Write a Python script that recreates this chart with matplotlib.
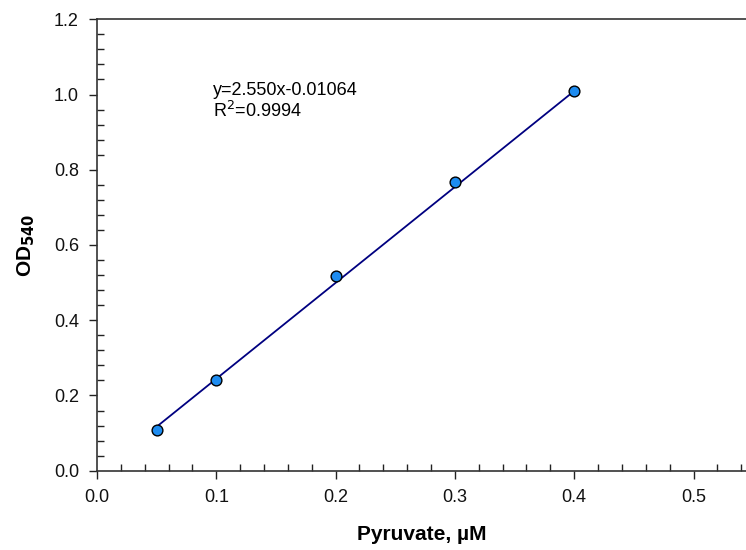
import numpy as np
import matplotlib
matplotlib.use('Agg')
import matplotlib.pyplot as plt
from matplotlib.ticker import MultipleLocator

plt.rcParams['font.family'] = ['Liberation Sans', 'DejaVu Sans']

# pyruvate standard curve
pyruvate = [0.05, 0.1, 0.2, 0.3, 0.4]
od540 = [0.108, 0.240, 0.517, 0.768, 1.010]
slope = 2.550
intercept = -0.01064
r_squared = 0.9994

fig = plt.figure(figsize=(7.46, 5.5), dpi=100)
ax = fig.add_axes([0.130, 0.1442, 0.870, 0.8207])

# regression line over the range of standards
x_fit = np.array([min(pyruvate), max(pyruvate)])
ax.plot(x_fit, slope * x_fit + intercept, color='#000080', linewidth=1.3, zorder=2)
ax.scatter(pyruvate, od540, s=60, color='#1E8CF0', edgecolors='black',
           linewidths=1.0, zorder=3)

ax.text(0.097, 1.010, f"y={slope:.3f}x{intercept:.5f}", fontsize=13, va='center')
ax.text(0.097, 0.957, f"R$^2$={r_squared}", fontsize=13, va='center')

ax.set_xlim(0, 0.544)
ax.set_ylim(0, 1.2)
ax.xaxis.set_major_locator(MultipleLocator(0.1))
ax.xaxis.set_minor_locator(MultipleLocator(0.02))
ax.yaxis.set_major_locator(MultipleLocator(0.2))
ax.yaxis.set_minor_locator(MultipleLocator(0.04))
ax.xaxis.set_major_formatter(plt.FormatStrFormatter('%.1f'))
ax.yaxis.set_major_formatter(plt.FormatStrFormatter('%.1f'))

ax.tick_params(which='major', direction='out', length=6, width=1.0,
               labelsize=13, pad=7, colors='#222222', labelcolor='#111111')
ax.tick_params(which='minor', direction='in', length=5, width=1.0, colors='#222222')
ax.tick_params(top=False, right=False, which='both')

ax.spines['right'].set_visible(False)
for side in ['left', 'bottom', 'top']:
    ax.spines[side].set_color('#333333')
    ax.spines[side].set_linewidth(1.2)

ax.set_xlabel('Pyruvate, µM', fontsize=15, fontweight='bold', labelpad=14)
ax.set_ylabel('OD$_{\\mathbf{540}}$', fontsize=15, fontweight='bold', labelpad=12)

fig.savefig('out.png', dpi=100)
